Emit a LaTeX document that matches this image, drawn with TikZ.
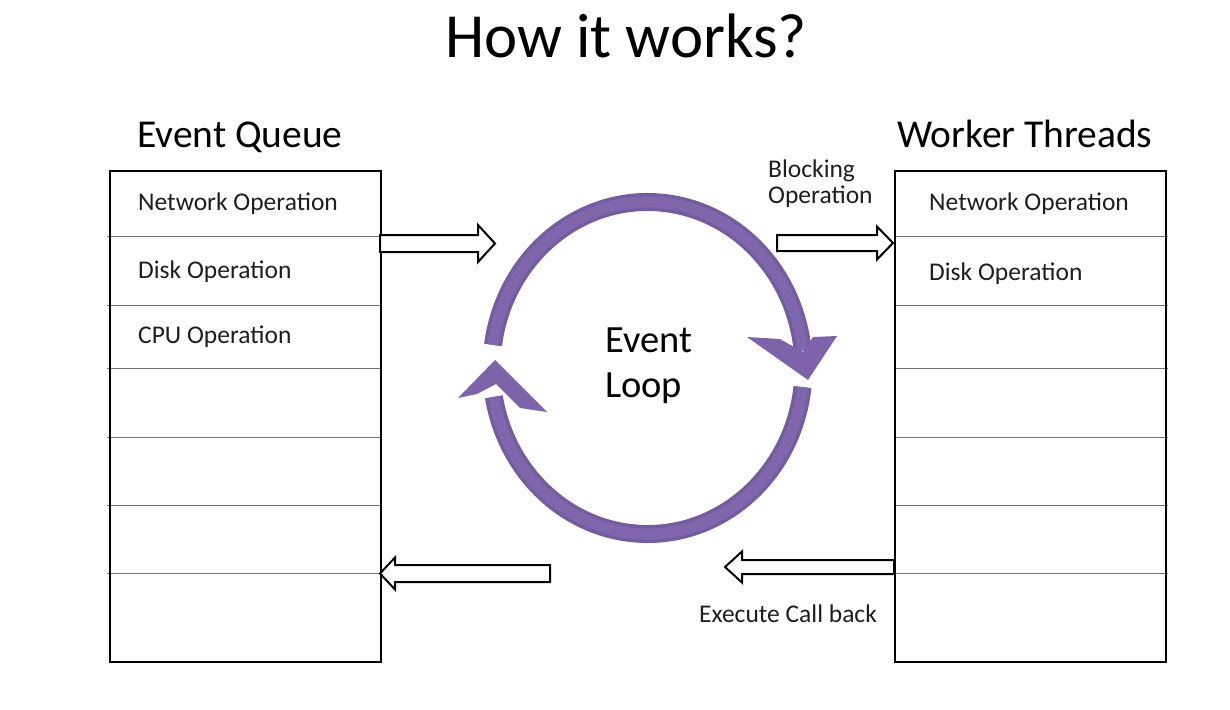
\documentclass[tikz,border=0pt]{standalone}
\usepackage{fontspec}
\setmainfont{Carlito}
\usetikzlibrary{calc}
\definecolor{loopdark}{HTML}{735D9E}
\definecolor{looplight}{HTML}{8067AD}
\definecolor{loopmid}{HTML}{7C63AA}
\definecolor{txtcol}{HTML}{1E1E1E}
\newcommand\myhollow[5]{%
  \draw[hollow] let \p1=(#1), \p2=(#2) in
  (\x1,\y1+#3pt) -- (\x2-#5pt,\y1+#3pt) -- (\x2-#5pt,\y1+#4pt) -- (\x2,\y2)
  -- (\x2-#5pt,\y1-#4pt) -- (\x2-#5pt,\y1-#3pt) -- (\x1,\y1-#3pt) -- cycle;}
\begin{document}
\begin{tikzpicture}[x=1pt,y=-1pt,
  txt/.style={anchor=base west, inner sep=0pt, text=txtcol, font=\fontsize{25.5}{30}\selectfont},
  head/.style={anchor=base west, inner sep=0pt, text=black, font=\fontsize{39.5}{46}\selectfont},
  box/.style={draw=black, line width=2pt, inner sep=0pt, minimum width=271pt, minimum height=491pt, anchor=north west},
  rowline/.style={draw=black!55, line width=1pt},
  hollow/.style={draw=black, line width=2pt, fill=white, line join=miter},
  ringdark/.style={draw=loopdark, line width=18pt},
  ringlight/.style={draw=looplight, line width=11pt},
  chev/.style={fill=loopmid, draw=none},
]
\useasboundingbox[fill=white] (0,0) rectangle (1230,709);

% title
\node[anchor=base, inner sep=0pt, font=\fontsize{62.8}{70}\selectfont] (title) at (626,58) {How it works?};

% headings
\node[head] (qhead) at (137,147) {Event Queue};
\node[head] (whead) at (897,147) {Worker Threads};

% row lines
\foreach \yy in {236,305,368,437,505,573} {
  \draw[rowline] (107,\yy) -- (380,\yy);
  \draw[rowline] (894,\yy) -- (1168,\yy);
}
% boxes
\node[box] (queue) at (109,170) {};
\node[box] (workers) at (894,170) {};

% queue entries
\node[txt] (q1) at (138,210) {Network Operation};
\node[txt] (q2) at (138,278) {Disk Operation};
\node[txt] (q3) at (138,343) {CPU Operation};
% worker entries
\node[txt] (w1) at (929,210) {Network Operation};
\node[txt] (w2) at (929,280) {Disk Operation};

% event loop ring
\coordinate (c) at (647.5,368);
\draw[ringdark] ($(c)+(188:156 and 166)$) arc[start angle=188, end angle=354, x radius=156, y radius=166];
\draw[ringlight] ($(c)+(188:156 and 166)$) arc[start angle=188, end angle=354, x radius=156, y radius=166];
\draw[ringdark] ($(c)+(6.6:156 and 166)$) arc[start angle=6.6, end angle=170, x radius=156, y radius=166];
\draw[ringlight] ($(c)+(6.6:156 and 166)$) arc[start angle=6.6, end angle=170, x radius=156, y radius=166];
% arrow heads of the ring
\fill[chev] (747,337) -- (780,339) -- (803,352) -- (813,337) -- (837,336) -- (808,380) -- cycle;
\fill[chev] (458,398) -- (495,360) -- (547,412) -- (520,408) -- (496,384) -- (477,394) -- cycle;

\node[anchor=base west, inner sep=0pt, font=\fontsize{38.5}{46}\selectfont] (ev1) at (605,352) {Event};
\node[anchor=base west, inner sep=0pt, font=\fontsize{38.5}{46}\selectfont] (ev2) at (605,397) {Loop};

% hollow arrows
\coordinate (a1s) at (380,243.5);
\coordinate (a1e) at (495,243.5);
\myhollow{a1s}{a1e}{8.5}{18.5}{17}
\coordinate (a2s) at (777,243);
\coordinate (a2e) at (893,243);
\myhollow{a2s}{a2e}{8}{16.5}{16}
\coordinate (a3s) at (550,573.5);
\coordinate (a3e) at (380,573.5);
\myhollow{a3s}{a3e}{8.5}{16}{-15}
\coordinate (a4s) at (894,567);
\coordinate (a4e) at (725,567);
\myhollow{a4s}{a4e}{7}{15.5}{-17}

% arrow labels
\node[txt] (bl1) at (768,177) {Blocking};
\node[txt] (bl2) at (768,203) {Operation};
\node[txt] (ex) at (699,622) {Execute Call back};
\end{tikzpicture}
\end{document}
